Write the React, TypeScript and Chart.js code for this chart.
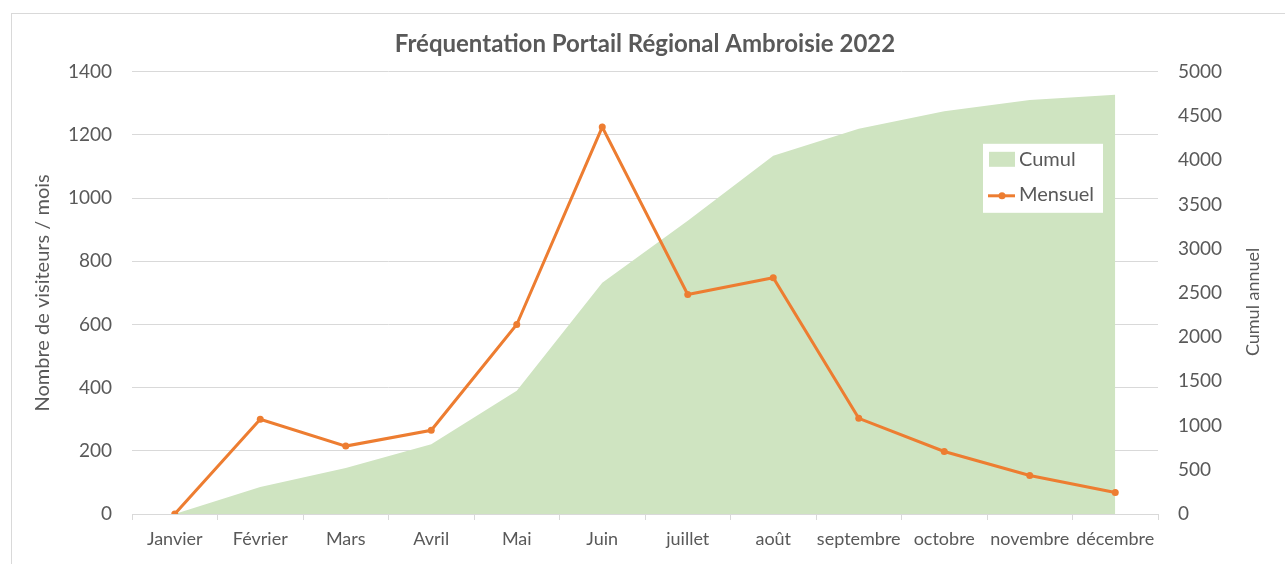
import React, { useEffect, useRef } from "react";
import { Chart, registerables } from "chart.js";

Chart.register(...registerables);

const titleText = "Fréquentation Portail Régional Ambroisie 2022";
const leftAxisTitle = "Nombre de visiteurs / mois";
const rightAxisTitle = "Cumul annuel";

const months = [
  "Janvier", "Février", "Mars", "Avril", "Mai", "Juin",
  "juillet", "août", "septembre", "octobre", "novembre", "décembre",
];
const mensuel = [0, 300, 215, 265, 600, 1225, 695, 748, 303, 198, 122, 68];
const cumul = [0, 305, 520, 790, 1395, 2615, 3315, 4050, 4355, 4555, 4680, 4740];

const leftTickMax = 1400;
const leftTickStep = 200;
const rightTickMax = 5000;
const rightTickStep = 500;

const TEXT = "#595959";
const GRID = "#d9d9d9";
const ORANGE = "#ed7d31";
const GREEN = "#cfe4c1";
const FONT = "Lato, 'Open Sans', sans-serif";

const overlayPlugin = {
  id: "overlay",
  afterDatasetsDraw(chart: any) {
    const ctx = chart.ctx as CanvasRenderingContext2D;
    const { right, top } = chart.chartArea;
    const ds = chart.data.datasets;
    const x = right - 175;
    const y = top + 72;
    ctx.save();
    ctx.fillStyle = "#ffffff";
    ctx.fillRect(x, y, 120, 69);
    ctx.font = `20px ${FONT}`;
    ctx.textBaseline = "middle";
    ctx.textAlign = "left";
    const cum = ds.find((d: any) => d.label === "Cumul");
    const men = ds.find((d: any) => d.label === "Mensuel");
    ctx.fillStyle = cum.backgroundColor;
    ctx.fillRect(x + 6, y + 8, 26, 15);
    ctx.fillStyle = TEXT;
    ctx.fillText(cum.label, x + 36, y + 16);
    ctx.strokeStyle = men.borderColor;
    ctx.lineWidth = 3;
    ctx.beginPath();
    ctx.moveTo(x + 5, y + 52);
    ctx.lineTo(x + 32, y + 52);
    ctx.stroke();
    ctx.fillStyle = men.borderColor;
    ctx.beginPath();
    ctx.arc(x + 19, y + 52, 3.5, 0, Math.PI * 2);
    ctx.fill();
    ctx.fillStyle = TEXT;
    ctx.fillText(men.label, x + 36, y + 51);
    ctx.restore();
  },
  afterDraw(chart: any) {
    const ctx = chart.ctx as CanvasRenderingContext2D;
    const { top, bottom } = chart.chartArea;
    ctx.save();
    ctx.font = `18px ${FONT}`;
    ctx.fillStyle = TEXT;
    ctx.textAlign = "center";
    ctx.textBaseline = "middle";
    ctx.translate(1253, (top + bottom) / 2 + 9);
    ctx.rotate(-Math.PI / 2);
    ctx.fillText(rightAxisTitle, 0, 0);
    ctx.restore();
  },
};

export default function App() {
  const canvasRef = useRef<HTMLCanvasElement | null>(null);

  useEffect(() => {
    if (!canvasRef.current) return;
    const chart = new Chart(canvasRef.current, {
      type: "line",
      data: {
        labels: months,
        datasets: [
          {
            label: "Cumul",
            data: cumul,
            yAxisID: "y1",
            backgroundColor: GREEN,
            borderColor: GREEN,
            borderWidth: 0,
            pointRadius: 0,
            fill: "origin",
            tension: 0,
            order: 2,
          },
          {
            label: "Mensuel",
            data: mensuel,
            yAxisID: "y",
            borderColor: ORANGE,
            backgroundColor: ORANGE,
            borderWidth: 3,
            pointRadius: 3.5,
            pointBorderWidth: 0,
            pointBackgroundColor: ORANGE,
            fill: false,
            tension: 0,
            order: 1,
          },
        ],
      },
      options: {
        responsive: false,
        animation: false,
        layout: { padding: { left: 0, right: 0, top: 0, bottom: 0 } },
        plugins: {
          legend: { display: false },
          tooltip: { enabled: false },
          title: {
            display: true,
            text: titleText,
            fullSize: false,
            color: TEXT,
            font: { family: FONT, size: 24, weight: "bold" },
            padding: { top: 30, bottom: 13 },
          },
        },
        scales: {
          x: {
            type: "category",
            offset: true,
            grid: {
              display: true,
              drawOnChartArea: false,
              drawTicks: true,
              tickLength: 6,
              offset: true,
              color: GRID,
            },
            border: { display: true, color: GRID },
            ticks: {
              color: TEXT,
              font: { family: FONT, size: 18 },
              padding: 8,
              maxRotation: 0,
              autoSkip: false,
            },
            afterFit: (s: any) => {
              s.height = 50;
            },
          },
          y: {
            position: "left",
            min: 0,
            max: leftTickMax,
            ticks: {
              stepSize: leftTickStep,
              color: TEXT,
              font: { family: FONT, size: 19 },
              padding: 20,
              callback: (v: any) => String(v),
            },
            grid: { color: GRID, drawTicks: false, lineWidth: 1 },
            border: { display: false },
            title: {
              display: true,
              text: leftAxisTitle,
              color: TEXT,
              font: { family: FONT, size: 20 },
              padding: { top: 31, bottom: 0 },
            },
            afterFit: (s: any) => {
              s.width = 132;
            },
          },
          y1: {
            position: "right",
            min: 0,
            max: rightTickMax,
            ticks: {
              stepSize: rightTickStep,
              color: TEXT,
              font: { family: FONT, size: 19 },
              padding: 20,
              callback: (v: any) => String(v),
            },
            grid: { display: false, drawTicks: false },
            border: { display: false },
            afterFit: (s: any) => {
              s.width = 127;
            },
          },
        },
      },
      plugins: [overlayPlugin],
    } as any);
    return () => chart.destroy();
  }, []);

  return (
    <div
      style={{
        position: "absolute",
        left: 0,
        top: 0,
        width: 1285,
        height: 564,
        overflow: "hidden",
        background: "#ffffff",
      }}
    >
      <div
        style={{
          position: "absolute",
          left: 11,
          top: 13,
          width: 1300,
          height: 600,
          border: `1px solid ${GRID}`,
        }}
      />
      <canvas
        ref={canvasRef}
        width={1285}
        height={564}
        style={{ position: "absolute", left: 0, top: 0, width: 1285, height: 564 }}
      />
    </div>
  );
}
